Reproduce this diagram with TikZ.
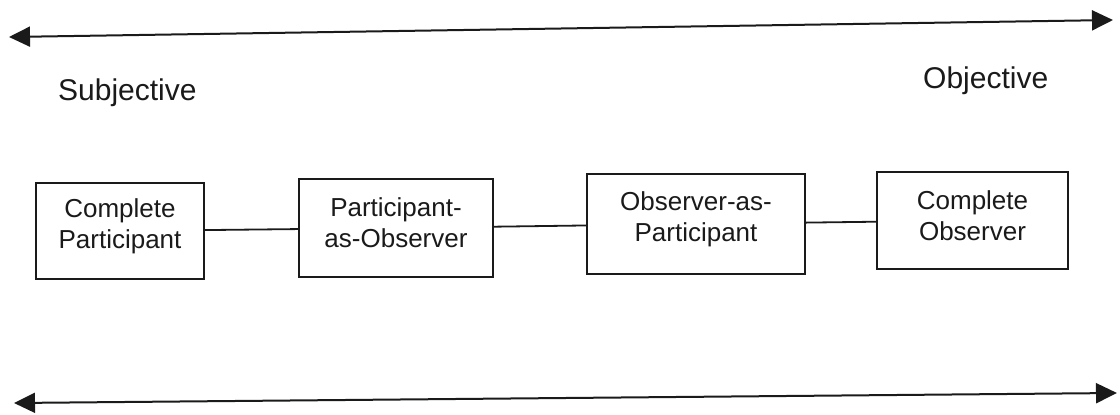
\documentclass[tikz,border=0pt]{standalone}
\usepackage{fontspec}
\setmainfont{Liberation Sans}
\usetikzlibrary{arrows.meta}
\definecolor{ink}{HTML}{1A1A1A}
\begin{document}
\begin{tikzpicture}[x=1pt,y=-1pt,
  box/.style={draw=ink,line width=2pt,rectangle,inner sep=0pt},
  boxtext/.style={inner sep=0pt,align=center,font=\fontsize{26}{31}\selectfont,text=ink},
  side/.style={inner sep=0pt,anchor=base west,font=\fontsize{30}{36}\selectfont,text=ink},
  link/.style={draw=ink,line width=1.8pt},
  axisarrow/.style={draw=ink,line width=2pt,{Triangle[length=21pt,width=20pt]}-{Triangle[length=21pt,width=20pt]}}]
\useasboundingbox (0,0) rectangle (1120,415);
% scale arrows
\coordinate (tl) at (9,37);
\coordinate (tr) at (1113,20);
\coordinate (bl) at (14,403);
\coordinate (br) at (1117,393);
\draw[axisarrow] (tl) -- (tr);
\draw[axisarrow] (bl) -- (br);
% end labels
\node[side] (subj) at (58,100) {Subjective};
\node[side] (obj) at (923,88) {Objective};
% boxes
\node[box,minimum width=168pt,minimum height=96pt] (b1) at (120,231) {};
\node[box,minimum width=194pt,minimum height=98pt] (b2) at (396,228) {};
\node[box,minimum width=218pt,minimum height=100pt] (b3) at (696,224) {};
\node[box,minimum width=191pt,minimum height=97pt] (b4) at (972.5,220.5) {};
\node[boxtext] (t1) at ([yshift=5pt]b1.center) {Complete\\Participant};
\node[boxtext] (t2) at ([yshift=5pt]b2.center) {Participant-\\as-Observer};
\node[boxtext] (t3) at ([yshift=5pt]b3.center) {Observer-as-\\Participant};
\node[boxtext] (t4) at ([yshift=5pt]b4.center) {Complete\\Observer};
% connectors
\draw[link] (b1) -- (b2);
\draw[link] (b2) -- (b3);
\draw[link] (b3) -- (b4);
\end{tikzpicture}
\end{document}
